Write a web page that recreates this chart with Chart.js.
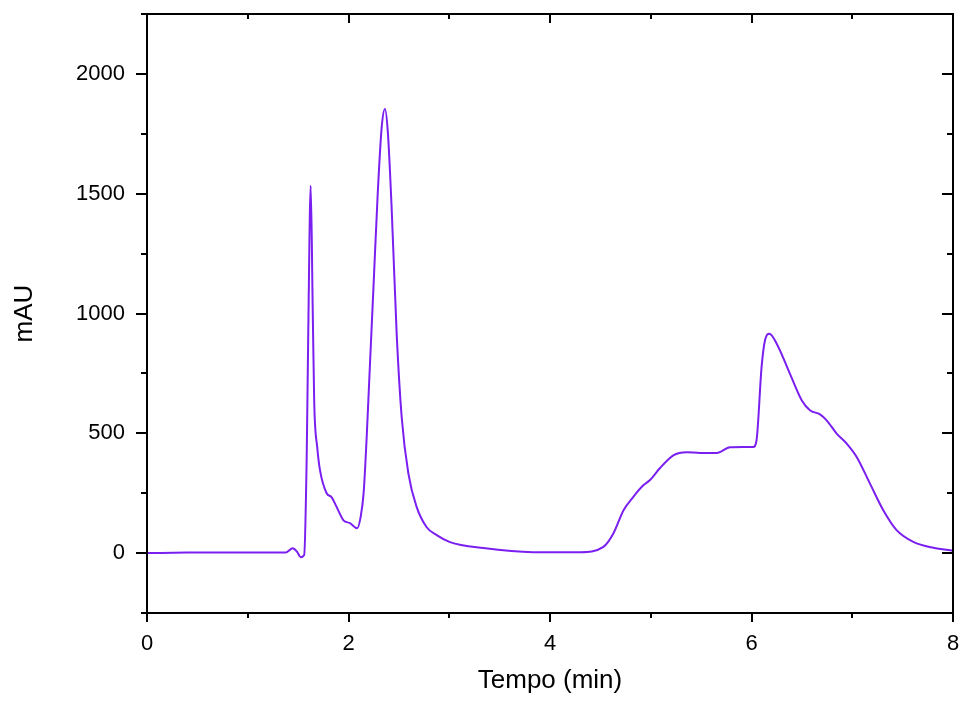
<!DOCTYPE html>
<html>
<head>
<meta charset="utf-8">
<script src="https://cdn.jsdelivr.net/npm/chart.js@4.4.1/dist/chart.umd.min.js"></script>
<style>
  html, body { margin: 0; padding: 0; background: #fff; }
  #wrap { width: 960px; height: 705px; }
</style>
</head>
<body>
<div id="wrap"><canvas id="chart"></canvas></div>
<script>
  // chromatogram: time (min) and absorbance (mAU)
  const tempo = [
    0, 0.4, 1.0, 1.38, 1.446, 1.49, 1.525, 1.56, 1.585, 1.6, 1.625, 1.645, 1.66, 1.69, 1.717,
    1.783, 1.833, 1.883, 1.95, 2.015, 2.087, 2.12, 2.15, 2.18, 2.21, 2.25, 2.29, 2.33, 2.362,
    2.39, 2.428, 2.478, 2.528, 2.594, 2.677, 2.776, 2.875, 3.007, 3.338, 3.83, 4.3,
    4.53, 4.63, 4.73, 4.827, 4.926, 4.99, 5.09, 5.224, 5.357, 5.49, 5.655, 5.787, 5.92,
    6.018, 6.05, 6.10, 6.134, 6.177, 6.25, 6.38, 6.498, 6.58, 6.68, 6.746, 6.845, 6.945,
    7.044, 7.176, 7.308, 7.44, 7.606, 7.805, 8.0
  ];
  const mAU = [
    0, 2, 3, 3, 20, 5, -17, -8, 400, 900, 1533, 1012, 625, 440, 346,
    250, 233, 192, 137, 125, 104, 150, 250, 480, 760, 1130, 1500, 1780, 1854,
    1760, 1442, 917, 567, 333, 192, 108, 75, 46, 21, 4, 4,
    26, 83, 179, 235, 283, 304, 354, 408, 421, 418, 418, 442, 443,
    443, 471, 776, 888, 915, 874, 750, 638, 596, 579, 554, 499, 457,
    401, 290, 179, 96, 47, 22, 10
  ];
  const xTicks = [0, 1, 2, 3, 4, 5, 6, 7, 8];
  const yTicks = [-250, 0, 250, 500, 750, 1000, 1250, 1500, 1750, 2000, 2250];

  const fontFamily = '"Liberation Sans", Arial, sans-serif';

  // frame with ticks out on bottom/left and in on top/right
  const frame = {
    id: 'frame',
    afterDraw(chart) {
      const ctx = chart.ctx;
      const a = chart.chartArea;
      const xs = chart.scales.x, ys = chart.scales.y;
      ctx.save();
      ctx.strokeStyle = '#000';
      ctx.lineWidth = 2;
      ctx.strokeRect(a.left, a.top, a.right - a.left, a.bottom - a.top);
      ctx.beginPath();
      xTicks.forEach(v => {
        const px = Math.round(xs.getPixelForValue(v));
        const len = v % 2 === 0 ? 9 : 5;
        ctx.moveTo(px, a.bottom); ctx.lineTo(px, a.bottom + len);
        ctx.moveTo(px, a.top); ctx.lineTo(px, a.top + len);
      });
      yTicks.forEach(v => {
        const py = Math.round(ys.getPixelForValue(v));
        const len = v % 500 === 0 ? 11 : 6;
        ctx.moveTo(a.left, py); ctx.lineTo(a.left - len, py);
        ctx.moveTo(a.right, py); ctx.lineTo(a.right - len, py);
      });
      ctx.stroke();
      ctx.restore();
    }
  };

  new Chart(document.getElementById('chart'), {
    type: 'scatter',
    data: {
      datasets: [{
        data: tempo.map((t, i) => ({ x: t, y: mAU[i] })),
        showLine: true,
        borderColor: '#7a1ff0',
        borderWidth: 2,
        pointRadius: 0,
        cubicInterpolationMode: 'monotone',
        fill: false
      }]
    },
    options: {
      responsive: true,
      maintainAspectRatio: false,
      animation: false,
      layout: { padding: { top: 14, right: 7, left: 0, bottom: 0 } },
      plugins: { legend: { display: false }, tooltip: { enabled: false } },
      scales: {
        x: {
          type: 'linear',
          min: 0, max: 8,
          afterFit(scale) {
            scale.height = 92;
            scale.paddingLeft = 0;
            scale.paddingRight = 0;
          },
          afterBuildTicks(scale) { scale.ticks = xTicks.map(v => ({ value: v })); },
          grid: { display: false, drawTicks: false },
          border: { display: false },
          ticks: {
            padding: 18,
            color: '#000',
            font: { family: fontFamily, size: 22 },
            callback: v => (v % 2 === 0 ? String(v) : '')
          },
          title: {
            display: true,
            text: 'Tempo (min)',
            color: '#000',
            font: { family: fontFamily, size: 26 },
            padding: { top: 0, bottom: 9 }
          }
        },
        y: {
          min: -250, max: 2250,
          afterFit(scale) {
            scale.width = 147;
            scale.paddingTop = 0;
            scale.paddingBottom = 0;
          },
          afterBuildTicks(scale) { scale.ticks = yTicks.map(v => ({ value: v })); },
          grid: { display: false, drawTicks: false },
          border: { display: false },
          ticks: {
            padding: 22,
            color: '#000',
            font: { family: fontFamily, size: 22 },
            callback: v => (v % 500 === 0 && v >= 0 && v <= 2000 ? String(v) : '')
          },
          title: {
            display: true,
            text: 'mAU',
            color: '#000',
            font: { family: fontFamily, size: 26 },
            padding: { top: 9, bottom: 0 }
          }
        }
      }
    },
    plugins: [frame]
  });
</script>
</body>
</html>
